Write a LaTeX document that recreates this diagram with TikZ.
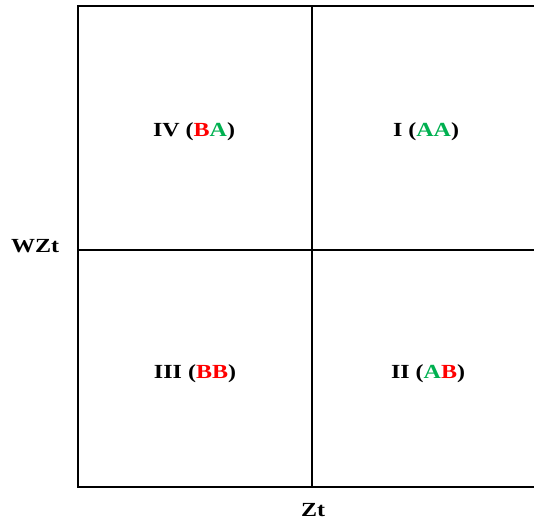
\documentclass[tikz,border=0pt]{standalone}
\usepackage{fontspec}
\setmainfont{Liberation Serif}
\usetikzlibrary{positioning}
\definecolor{qred}{RGB}{255,0,0}
\definecolor{qgreen}{RGB}{0,176,80}
\newcommand{\qa}{\textcolor{qgreen}{A}}
\newcommand{\qb}{\textcolor{qred}{B}}
\newcommand{\qlab}[1]{\scalebox{1.2}[1]{#1}}

\begin{document}
\begin{tikzpicture}[x=1pt,y=-1pt,line width=1.6pt,
  every node/.style={font=\fontsize{20}{23}\selectfont\bfseries,inner sep=0pt}]
\useasboundingbox (0,0) rectangle (534,521);
\clip (0,0) rectangle (534,521);
% the four quadrants
\draw (78,6) rectangle (546,487);
\draw (312,6) -- (312,487);
\draw (78,250) -- (546,250);
\node (q4) at (194,132) {\qlab{IV (\qb\qa)}};
\node (q1) at (426,132) {\qlab{I (\qa\qa)}};
\node (q3) at (195,374) {\qlab{III (\qb\qb)}};
\node (q2) at (428,374) {\qlab{II (\qa\qb)}};
% axis labels
\node (wzt) at (35,246) {\qlab{WZt}};
\node (zt)  at (313,510) {\qlab{Zt}};
\end{tikzpicture}
\end{document}
